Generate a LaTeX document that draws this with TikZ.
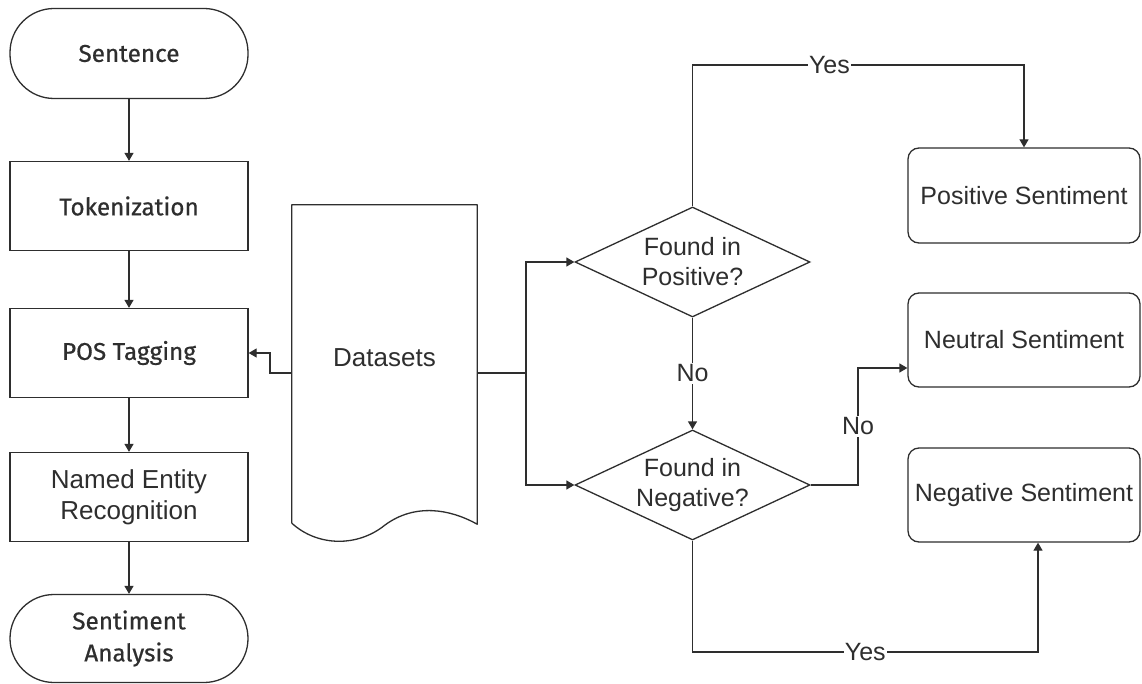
\documentclass[tikz,border=0pt]{standalone}
\usepackage{fontspec}
\setmainfont{Liberation Sans}
\newfontfamily\dinfont{Fira Sans}[FakeBold=0.6]
\usetikzlibrary{shapes.geometric,arrows.meta}
\definecolor{ink}{HTML}{2E2E2E}
\begin{document}
\begin{tikzpicture}[x=1pt,y=-1pt,
  every node/.style={text=ink, font=\fontsize{25}{30}\selectfont, inner sep=0pt},
  line/.style={draw=ink, line width=1.3pt},
  arr/.style={line, -{Triangle[length=8pt,width=9pt]}},
  term/.style={draw=ink, line width=1.3pt, rounded corners=44pt, minimum width=238pt, minimum height=90pt, align=center, font=\dinfont\fontsize{24.3}{32}\selectfont},
  proc/.style={draw=ink, line width=1.3pt, minimum width=238pt, minimum height=89pt, align=center, font=\dinfont\fontsize{24.3}{32}\selectfont},
  dec/.style={draw=ink, line width=1.3pt, diamond, aspect=2.14, minimum width=235pt, minimum height=110pt, align=center},
  outbox/.style={draw=ink, line width=1.3pt, rounded corners=11pt, minimum width=232pt, minimum height=94pt, align=center},
  lab/.style={fill=white, inner xsep=1pt, inner ysep=2pt}
]
\fill[white] (0,0) rectangle (1142,684);
\useasboundingbox (0,0) rectangle (1142,684);

% left column
\node[term] (sent) at (129,53.5) {Sentence};
\node[proc] (tok) at (129,206) {Tokenization};
\node[proc] (pos) at (129,353) {POS Tagging};
\node[proc, font=\fontsize{26}{31}\selectfont] (ner) at (129,497) {Named Entity\\Recognition};
\node[term, minimum height=88pt] (sa) at (129,638.5) {Sentiment\\Analysis};

\draw[arr] (sent) -- (tok);
\draw[arr] (tok) -- (pos);
\draw[arr] (pos) -- (ner);
\draw[arr] (ner) -- (sa);

% datasets document shape
\node[minimum width=185pt, minimum height=318pt] (ds) at (384.5,364) {};
\node[font=\fontsize{26}{31}\selectfont] (dstext) at ([yshift=6pt]ds.center) {Datasets};
\draw[line, line join=round] (ds.south west) -- (ds.north west) -- (ds.north east) -- ([yshift=-1pt]ds.south east)
  .. controls (450,509) and (415,503) .. (385,525)
  .. controls (358,547) and (318,547) .. (ds.south west);

\coordinate (dsl) at ([yshift=-9pt]ds.west);
\coordinate (dsr) at ([yshift=-9pt]ds.east);

% decisions
\node[dec] (d1) at (692.5,262) {Found in\\Positive?};
\node[dec] (d2) at (692.5,485) {Found in\\Negative?};

% outcomes
\node[outbox, minimum height=95pt] (pbox) at (1024,195.5) {Positive Sentiment};
\node[outbox] (nbox) at (1024,340) {Neutral Sentiment};
\node[outbox] (gbox) at (1024,495) {Negative Sentiment};

% connectors
\draw[arr] (dsl) -- (270,373) -- (270,353) -- (pos.east);
\draw[arr] (dsr) -- (526,373) |- (d1.west);
\draw[arr] (dsr) -- (526,373) |- (d2.west);

\draw[arr] (d1.north) -- (692.5,65) -- node[lab, pos=0.413] {Yes} (pbox.north |- 0,65) -- (pbox.north);
\draw[arr] (d1.south) -- node[lab] {No} (d2.north);
\draw[arr] (d2.east) -- (858,485) -- node[lab] {No} (858,368) -- ([yshift=-28pt]nbox.west);
\draw[arr] (d2.south) -- (692.5,652) -- node[lab] {Yes} ([xshift=14pt]gbox.south |- 0,652) -- ([xshift=14pt]gbox.south);
\end{tikzpicture}
\end{document}
